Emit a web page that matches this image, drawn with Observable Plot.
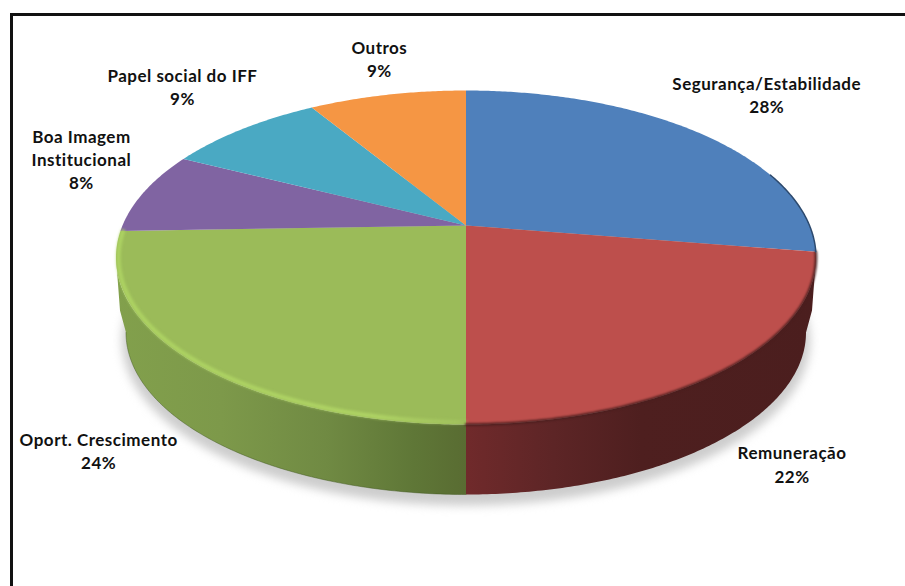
<!DOCTYPE html>
<html lang="pt">
<head>
<meta charset="utf-8">
<script src="https://cdn.jsdelivr.net/npm/d3@7"></script>
<script src="https://cdn.jsdelivr.net/npm/@observablehq/plot@0.6"></script>
<style>
  html, body { margin: 0; padding: 0; background: #fff; }
  svg { display: block; }
</style>
</head>
<body>
<div id="chart"></div>
<script>
// Survey shares, clockwise from twelve o'clock
const categories = ["Segurança/Estabilidade", "Remuneração", "Oport. Crescimento", "Boa Imagem\nInstitucional", "Papel social do IFF", "Outros"];
const shares = [28, 22, 24, 8, 9, 9];

// Slice styling
const topColors = ["#4f80bb", "#bd4f4c", "#9bbb59", "#8064a2", "#4aa9c3", "#f59644"];
const wallFills = {"Remuneração": "url(#wall-red)", "Oport. Crescimento": "url(#wall-green)"};

// Label block offset from the slice's rim midpoint
const labelDx = [70, 64, -89, -62.5, -60, -8];
const labelDy = [-38, 95.5, 91, -33.7, -43, -37];

// Tilted disc: upper face, waist of the side wall, lower face, ground shadow
const upper = {cx: 465.5, cy: 257, rx: 350, ry: 167};
const waist = {cx: 465.5, cy: 310, rx: 346, ry: 167};
const lower = {cx: 465.5, cy: 332, rx: 340, ry: 162};
const shadow = {cx: 465.5, cy: 340, rx: 344, ry: 165};
const pivot = {x: 465.5, y: 225};
const tilt = -0.22;

const TAU = Math.PI * 2;

// Projective map of a unit circle onto an ellipse, so equal angles foreshorten towards the back
function rim(angle, e) {
  const ux = Math.sin(angle), uy = -Math.cos(angle);
  const d = 1 + tilt * uy;
  return {
    x: e.cx + e.rx * ux * Math.sqrt(1 - tilt * tilt) / d,
    y: e.cy + e.ry * (uy + tilt) / d
  };
}
function arc(a0, a1, e) {
  const n = Math.max(2, Math.ceil((a1 - a0) / 0.01));
  return d3.range(n + 1).map(i => rim(a0 + (a1 - a0) * i / n, e));
}

const arcs = d3.pie().sort(null).value(d => d)(shares);

const slices = arcs.map((a, i) => {
  const mid = rim((a.startAngle + a.endAngle) / 2, upper);
  return {
    name: categories[i], value: shares[i], top: topColors[i],
    a0: a.startAngle, a1: a.endAngle,
    lx: mid.x + labelDx[i], ly: mid.y + labelDy[i]
  };
});

const [blue, red, green] = slices;

// The wall is visible only between the two silhouette angles of the disc
const sideStart = Math.acos(tilt);
const sideEnd = TAU - sideStart;

const facePoints = slices.flatMap(s =>
  [pivot, ...arc(s.a0, s.a1, upper)].map(p => ({...p, id: s.name, fill: s.top})));

const wallPoints = [red, green].flatMap(s => {
  const a0 = Math.max(s.a0, sideStart), a1 = Math.min(s.a1, sideEnd);
  const foot = [];
  if (a1 === sideEnd) foot.push(rim(a1, waist));
  foot.push(...arc(a0, a1, lower).reverse());
  if (s === red) foot.push(rim(a0, waist));
  return [...arc(a0, a1, upper), ...foot].map(p => ({...p, id: s.name, fill: wallFills[s.name]}));
});

const shadowPoints = arc(0, TAU, shadow);
const inset = {...upper, rx: upper.rx - 2.5, ry: upper.ry - 2.5};

// Gradients shared by the side wall and the bevel highlight
function defs() {
  const d = d3.create("svg:defs");
  const grad = (id, stops) => {
    const g = d.append("linearGradient").attr("id", id);
    for (const [o, c, a = 1] of stops)
      g.append("stop").attr("offset", o).attr("stop-color", c).attr("stop-opacity", a);
  };
  grad("wall-green", [[0, "#82a04c"], [0.3, "#7d994a"], [0.6, "#708a43"], [0.85, "#5f7737"], [1, "#596c32"]]);
  grad("wall-red", [[0, "#702a2b"], [0.25, "#5d2526"], [0.5, "#4e1f1f"], [1, "#4b1e1e"]]);
  grad("bevel-green", [[0, "#aed463"], [0.75, "#b0d565"], [0.97, "#a7c862", 0.7], [1, "#a5c560", 0.3]]);
  return d.node();
}

const closed = {x: "x", y: "y", curve: "linear-closed", stroke: "none"};

const chart = Plot.plot({
  width: 905,
  height: 586,
  margin: 0,
  style: {background: "#fff", overflow: "hidden", letterSpacing: "0.5px"},
  x: {axis: null, domain: [0, 905], range: [0, 905]},
  y: {axis: null, domain: [0, 586], range: [0, 586]},
  marks: [
    defs,
    // Frame: only the top and left edges are inked
    Plot.ruleY([14], {x1: 10, x2: 905, stroke: "#111", strokeWidth: 3}),
    Plot.ruleX([11], {y1: 13, y2: 586, stroke: "#111", strokeWidth: 3}),
    // Soft ground shadow
    Plot.line(shadowPoints, {...closed, fill: "#cdcdcd", imageFilter: "blur(5px)"}),
    // Side wall, then a thin dark seam along its foot
    Plot.line(wallPoints, {...closed, z: "id", fill: d => d.fill}),
    Plot.line(arc(Math.PI, sideEnd, lower), {x: "x", y: "y", stroke: "#41581f", strokeWidth: 0.8, strokeOpacity: 0.6}),
    // Upper face
    Plot.line(facePoints, {...closed, z: "id", fill: d => d.fill}),
    // Rim treatments: green bevel, dark red and blue edges
    Plot.line(arc(green.a0, green.a1, inset), {x: "x", y: "y", stroke: "url(#bevel-green)", strokeWidth: 4, imageFilter: "blur(1.4px)"}),
    Plot.line(arc(red.a0, red.a1, upper), {x: "x", y: "y", stroke: "#4b1e1e", strokeWidth: 2.5, imageFilter: "blur(1.2px)"}),
    Plot.line(arc(blue.a1 - 0.5, blue.a1, upper), {x: "x", y: "y", stroke: "#2d4a6e", strokeWidth: 1.5, imageFilter: "blur(0.6px)"}),
    // Category labels
    Plot.text(slices, {
      x: "lx", y: "ly",
      text: d => `${d.name}\n${d.value}%`,
      textAnchor: "middle",
      lineAnchor: "middle",
      lineHeight: 1.38,
      fontFamily: "Lato, 'Open Sans', sans-serif",
      fontWeight: 700,
      fontSize: 17,
      fill: "#111"
    })
  ]
});

document.getElementById("chart").append(chart);
</script>
</body>
</html>
